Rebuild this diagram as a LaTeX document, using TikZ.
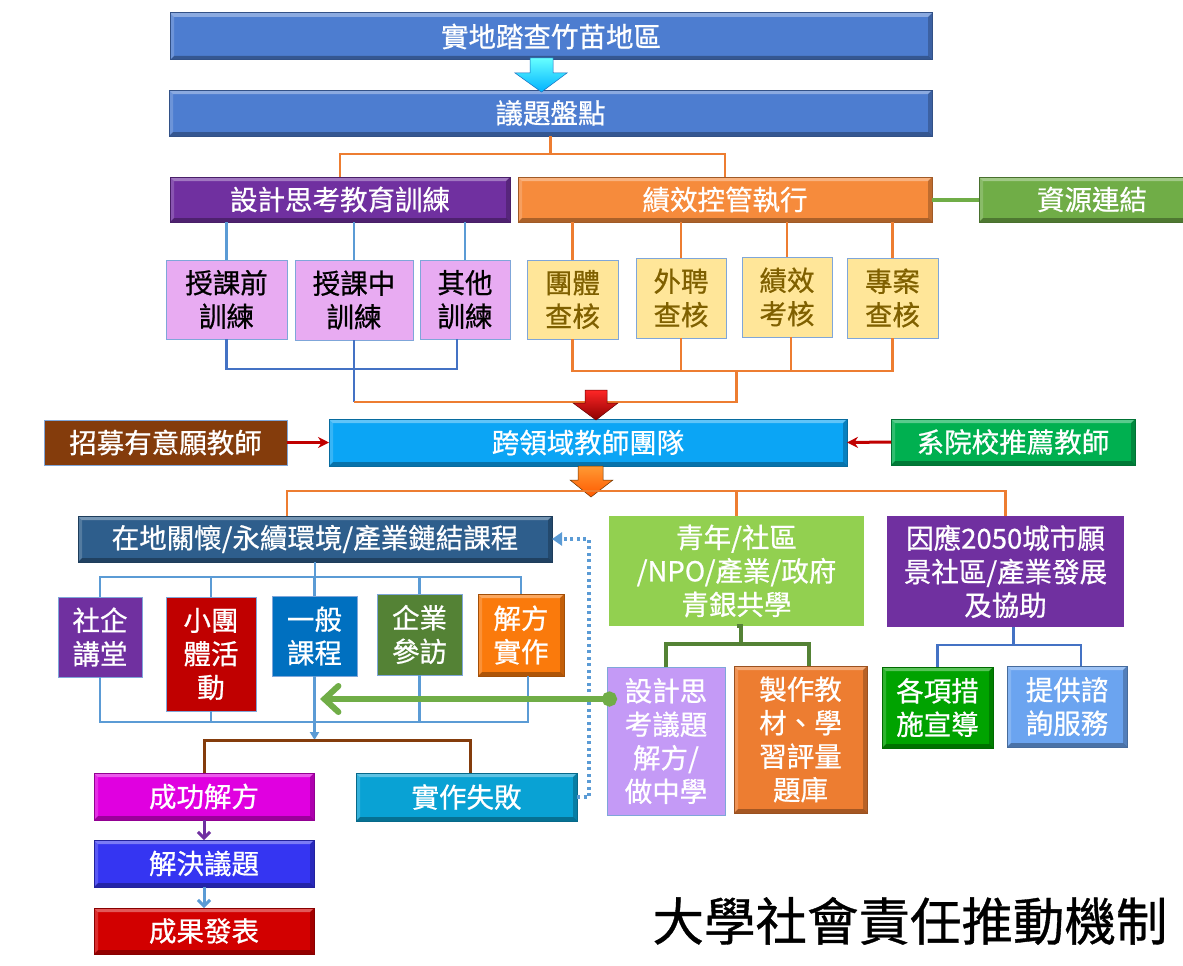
\documentclass[tikz,border=0pt]{standalone}
\usepackage{fontspec}
\setmainfont{Noto Sans CJK TC}[FakeBold=0.7]
\usetikzlibrary{arrows.meta,calc}
\definecolor{topblue}{HTML}{4D7DD0}
\definecolor{cpurple}{HTML}{7030A0}
\definecolor{corange}{HTML}{F68B3C}
\definecolor{cgreen}{HTML}{70AD47}
\definecolor{cpink}{HTML}{E8ABF2}
\definecolor{cyellow}{HTML}{FFE699}
\definecolor{colive}{HTML}{7F6000}
\definecolor{csky}{HTML}{0BA5F5}
\definecolor{cbrown}{HTML}{843C0C}
\definecolor{cgreen2}{HTML}{00B050}
\definecolor{csteel}{HTML}{2E5E8C}
\definecolor{cdred}{HTML}{C00000}
\definecolor{cblue}{HTML}{0070C0}
\definecolor{cdgreen}{HTML}{548235}
\definecolor{corange2}{HTML}{FA7A0C}
\definecolor{clgreen}{HTML}{92D050}
\definecolor{clav}{HTML}{C49AF6}
\definecolor{corange3}{HTML}{ED7D31}
\definecolor{cgreen3}{HTML}{00A300}
\definecolor{clblue}{HTML}{6BA4F0}
\definecolor{cmag}{HTML}{E000E0}
\definecolor{cteal}{HTML}{09A2D4}
\definecolor{cvblue}{HTML}{3535F2}
\definecolor{cred}{HTML}{D20000}
\definecolor{edge}{HTML}{7FA6D9}
\definecolor{lblue}{HTML}{5B9BD5}
\definecolor{dblue}{HTML}{4472C4}
\newcommand\fs{\fontsize{27.5}{33.5}\selectfont}
\newcommand\mkbox[7]{\node[#6, minimum width={(#4-#2)*1pt}, minimum height={(#5-#3)*1pt}] (#1) at ({(#2+#4)/2},{(#3+#5)/2}) {#7};}
\tikzset{
  base/.style={rectangle, inner sep=0pt, outer sep=0pt, align=center, font=\fs, text=white, line width=1pt},
  flat/.style={base, fill=#1, draw=edge},
  bevel/.style={base, fill=#1, draw=#1!65!black,
    path picture={
      \fill[white,opacity=.35] (path picture bounding box.north west) -- (path picture bounding box.north east) -- ([shift={(-4pt,-4pt)}]path picture bounding box.north east) -- ([shift={(4pt,-4pt)}]path picture bounding box.north west) -- cycle;
      \fill[white,opacity=.18] (path picture bounding box.north west) -- (path picture bounding box.south west) -- ([shift={(4pt,4pt)}]path picture bounding box.south west) -- ([shift={(4pt,-4pt)}]path picture bounding box.north west) -- cycle;
      \fill[black,opacity=.3] (path picture bounding box.south west) -- (path picture bounding box.south east) -- ([shift={(-4pt,4pt)}]path picture bounding box.south east) -- ([shift={(4pt,4pt)}]path picture bounding box.south west) -- cycle;
      \fill[black,opacity=.22] (path picture bounding box.north east) -- (path picture bounding box.south east) -- ([shift={(-4pt,4pt)}]path picture bounding box.south east) -- ([shift={(-4pt,-4pt)}]path picture bounding box.north east) -- cycle;
    }},
  oline/.style={draw=corange3, line width=2.5pt},
  bline/.style={draw=lblue, line width=2.5pt},
  dline/.style={draw=dblue, line width=2.5pt},
  redarrow/.style={draw=cdred, line width=3pt, -{Stealth[length=11pt,width=11pt]}},
}
\begin{document}
\begin{tikzpicture}[x=1pt,y=-1pt]
\fill[white] (0,0) rectangle (1183,966);
\useasboundingbox (0,0) rectangle (1183,966);

% top boxes
\mkbox{n1}{170}{13}{932}{60}{bevel=topblue}{實地踏查竹苗地區}
\mkbox{n2}{169}{90}{932}{136}{bevel=topblue}{議題盤點}
\mkbox{n3}{170}{177}{510}{222}{bevel=cpurple}{設計思考教育訓練}
\mkbox{n4}{518}{177}{932}{222}{bevel=corange}{績效控管執行}
\mkbox{n5}{979}{177}{1205}{222}{bevel=cgreen}{資源連結}

% cyan block arrow
\shade[top color=cyan!60!white, bottom color=cyan!70!blue, draw=cyan!50!blue, line width=.5pt]
  (530,58) -- (553,58) -- (553,73) -- (567,73) -- (541.5,92) -- (515,73) -- (530,73) -- cycle;

% training sub boxes
\mkbox{t1}{166}{260}{287}{339}{flat=cpink, text=black}{授課前\\訓練}
\mkbox{t2}{295}{260}{413}{340}{flat=cpink, text=black}{授課中\\訓練}
\mkbox{t3}{420}{260}{510}{339}{flat=cpink, text=black}{其他\\訓練}
% audit sub boxes
\mkbox{y1}{527}{260}{618}{339}{flat=cyellow, text=colive}{團體\\查核}
\mkbox{y2}{636}{258}{726}{338}{flat=cyellow, text=colive}{外聘\\查核}
\mkbox{y3}{742}{257}{832}{337}{flat=cyellow, text=colive}{績效\\考核}
\mkbox{y4}{847}{258}{938}{338}{flat=cyellow, text=colive}{專案\\查核}

% team row
\mkbox{k}{329}{419}{847}{466}{bevel=csky}{跨領域教師團隊}
\mkbox{rc}{44}{420}{287}{465}{flat=cbrown}{招募有意願教師}
\mkbox{rs}{891}{419}{1135}{465}{bevel=cgreen2}{系院校推薦教師}

% course branch
\mkbox{z}{78}{516}{552}{562}{bevel=csteel}{在地關懷/永續環境/產業鏈結課程}
\mkbox{c1}{58}{597}{142}{677}{flat=cpurple}{社企\\講堂}
\mkbox{c2}{166}{597}{256}{711}{flat=cdred}{小團\\體活\\動}
\mkbox{c3}{272}{596}{357}{676}{flat=cblue}{一般\\課程}
\mkbox{c4}{377}{594}{462}{675}{flat=cdgreen}{企業\\參訪}
\mkbox{c5}{478}{594}{564}{676}{bevel=corange2}{解方\\實作}

% middle / right branches
\mkbox{q}{609}{516}{864}{626}{base, fill=clgreen}{青年/社區\\/NPO/產業/政府\\青銀共學}
\mkbox{r}{887}{516}{1124}{627}{base, fill=cpurple}{因應2050城市願\\景社區/產業發展\\及協助}
\mkbox{dt}{607}{667}{725}{815}{flat=clav}{設計思\\考議題\\解方/\\做中學}
\mkbox{mk}{734}{666}{867}{813}{bevel=corange3}{製作教\\材、學\\習評量\\題庫}
\mkbox{g1}{882}{667}{993}{748}{bevel=cgreen3}{各項措\\施宣導}
\mkbox{g2}{1007}{666}{1127}{747}{bevel=clblue}{提供諮\\詢服務}

% result boxes
\mkbox{s1}{94}{773}{314}{820}{bevel=cmag}{成功解方}
\mkbox{f}{356}{773}{577}{821}{bevel=cteal}{實作失敗}
\mkbox{s2}{94}{840}{314}{887}{bevel=cvblue}{解決議題}
\mkbox{s3}{94}{908}{314}{954}{bevel=cred}{成果發表}

\node[font=\fontsize{51.5}{56}\selectfont, text=black, inner sep=0pt] (title) at (910,921) {大學社會責任推動機制};

% ---- connectors ----
% 議題盤點 -> two branches
\draw[oline] (n2.south) -- ++(0,18) coordinate (h1) -| (n3.north);
\draw[oline] (h1) -| (n4.north);
% resource link
\draw[draw=cgreen, line width=4pt] (n4.east) -- (n5.west);
% training sub
\foreach \t in {t1,t2,t3} \draw[bline] (\t.north) -- (\t.north |- n3.south);
\foreach \t in {y1,y2,y3,y4} \draw[oline] (\t.north) -- (\t.north |- n4.south);
% training bottoms
\draw[dline] (t1.south) -- ++(0,30) -| ([xshift=-8pt]t3.south);
\draw[dline] (t2.south) -- ++(0,62) coordinate (h2);
% audit bottoms
\draw[oline] (y1.south) -- ++(0,32) coordinate (h3) -| (y4.south);
\draw[oline] (y2.south |- h3) -- (y2.south);
\draw[oline] ([xshift=4pt]y3.south |- h3) -- ([xshift=4pt]y3.south);
\draw[oline] (h2) -| ($(h3)+(164,0)$);

% red block arrow
\shade[top color=red!85!white, bottom color=red!55!black, draw=red!40!black, line width=.5pt]
  (585,390) -- (607,390) -- (607,403) -- (618,403) -- (596,420) -- (573,403) -- (585,403) -- cycle;

% side arrows into team
\draw[redarrow] (rc.east) -- (k.west);
\draw[redarrow] (rs.west) -- (k.east);

% orange block arrow below team
\shade[top color=orange!80!white, bottom color=orange!70!red, draw=orange!40!black, line width=.5pt]
  (578,466) -- (603,466) -- (603,480) -- (613,480) -- (591,497) -- (570,480) -- (578,480) -- cycle;

% team -> three branches
\draw[oline] ([xshift=-28pt]z.north) -- ++(0,-25) coordinate (h4) -| (r.north);
\draw[oline] (q.north |- h4) -- (q.north);

% course subs
\draw[bline] (z.south) -- ++(0,15) coordinate (h5);
\draw[bline] (c1.north) |- (h5) -| (c5.north);
\foreach \c in {c2,c3,c4} \draw[bline] (\c.north) -- (\c.north |- h5);
\draw[bline] (c1.south) -- (c1.south |- 0,722) -| ([xshift=7pt]c5.south);
\draw[bline] (c2.south) -- (c2.south |- 0,722);
\draw[bline] (c4.south) -- (c4.south |- 0,722);
\draw[bline, -{Triangle[length=8pt,width=9pt]}] (c3.south) -- (c3.south |- 0,740);

% success / failure split
\draw[draw=cbrown, line width=3pt] (s1.north) -- (s1.north |- 0,740) -| ([xshift=4pt]f.north);
\draw[draw=cpurple, line width=3pt, -{Straight Barb[length=6pt,width=12pt]}] (s1.south) -- (s2.north);
\draw[draw=lblue, line width=3pt, -{Straight Barb[length=6pt,width=12pt]}] (s2.south) -- (s3.north);

% failure feedback (dotted)
\draw[draw=lblue, line width=3.5pt, dash pattern=on 3pt off 3.5pt, -{Triangle[length=10pt,width=13pt]}]
  (f.east) -- ++(12,0) |- (z.east);

% green feedback arrow
\draw[draw=cgreen, line width=6pt, {Circle[length=15pt]}-{Straight Barb[length=14pt,width=26pt,line cap=round]}]
  ([shift={(10,-42)}]dt.west) -- (320,699);

% 青年 branches
\draw[draw=cdgreen, line width=4pt] (q.south) -- ++(4,0) -- ++(0,18) coordinate (h6);
\draw[draw=cdgreen, line width=4pt] (dt.north) |- (h6) -| ([xshift=8pt]mk.north);
% 因應 branches
\draw[draw=dblue, line width=2.5pt] ([xshift=8pt]r.south) -- ++(0,18) coordinate (h7);
\draw[draw=dblue, line width=2.5pt] (g1.north) |- (h7) -| ([xshift=14pt]g2.north);
\end{tikzpicture}
\end{document}
